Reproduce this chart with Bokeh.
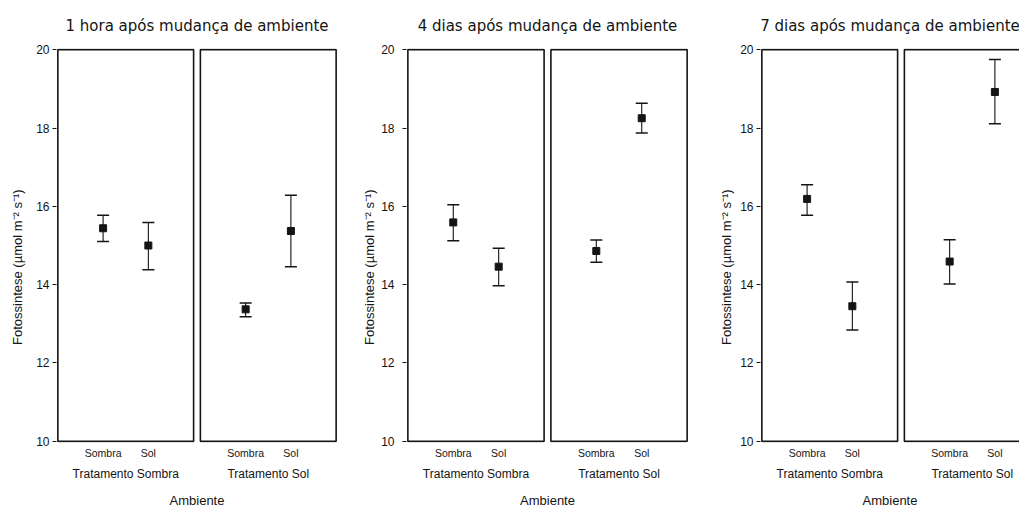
from bokeh.plotting import figure
from bokeh.layouts import row
from bokeh.models import (Range1d, FixedTicker, LinearAxis, ColumnDataSource,
                          Whisker, TeeHead)
from bokeh.embed import file_html
from bokeh.resources import INLINE

# ---------------- data ----------------
titles = ["1 hora após mudança de ambiente",
          "4 dias após mudança de ambiente",
          "7 dias após mudança de ambiente"]
treatments = ["Tratamento Sombra", "Tratamento Sol"]
environments = ["Sombra", "Sol"]
y_label = "Fotossintese (µmol m⁻² s⁻¹)"
x_label = "Ambiente"
y_ticks = [10, 12, 14, 16, 18, 20]

# order: (Trat. Sombra: Sombra, Sol), (Trat. Sol: Sombra, Sol)
mean_1h = [15.44, 15.00, 13.37, 15.37]
upper_1h = [15.77, 15.59, 13.53, 16.28]
lower_1h = [15.10, 14.38, 13.18, 14.46]

mean_4d = [15.59, 14.46, 14.86, 18.25]
upper_4d = [16.04, 14.93, 15.14, 18.63]
lower_4d = [15.12, 13.97, 14.57, 17.87]

mean_7d = [16.19, 13.45, 14.59, 18.92]
upper_7d = [16.55, 14.07, 15.15, 19.75]
lower_7d = [15.77, 12.84, 14.02, 18.11]

panels = [(mean_1h, upper_1h, lower_1h),
          (mean_4d, upper_4d, lower_4d),
          (mean_7d, upper_7d, lower_7d)]

# ---------------- layout / style ----------------
GAP = 0.15      # gap between the two sub-boxes (x units)
PAD = 0.03      # tiny padding so box edges are not clipped
BOX = 3.0       # width of each sub-box (x units)
FRAME_H = 394
full_span = 2 * BOX + GAP + 2 * PAD
NB = "\u00a0"
layout_cfg = [
    dict(frame_w=281, left=56, right=7, lab_so=3, axlab_so=8),
    dict(frame_w=282, left=62, right=7, lab_so=8, axlab_so=1),
    dict(frame_w=259, left=65, right=0, lab_so=3, axlab_so=3),
]
INK = "#141414"
FONT = "Liberation Sans"

figs = []
for k, (means, ups, lows) in enumerate(panels):
    cfg = layout_cfg[k]
    px_per_unit = cfg["frame_w"] / full_span if k < 2 else 281 / full_span
    x_end = -PAD + cfg["frame_w"] / px_per_unit

    xs, labels_x = [], {}
    for gi, tr in enumerate(treatments):
        for ej, env in enumerate(environments):
            xv = round(gi * (BOX + GAP) + ej + 1, 4)
            xs.append(xv)
            labels_x[xv] = env
    group_centers = [round(gi * (BOX + GAP) + BOX / 2, 4) for gi in range(len(treatments))]

    p = figure(frame_width=cfg["frame_w"], frame_height=FRAME_H,
               x_range=Range1d(-PAD, x_end), y_range=Range1d(10 - 0.03, 20 + 0.03),
               output_backend="svg", toolbar_location=None,
               min_border_left=cfg["left"], min_border_right=cfg["right"],
               min_border_top=47, min_border_bottom=0,
               title=titles[k])
    p.outline_line_color = None
    p.grid.visible = False
    p.background_fill_color = "white"
    p.border_fill_color = "white"

    p.title.align = "center"
    p.title.text_font = "DejaVu Sans"
    p.title.text_font_size = "15px"
    p.title.text_font_style = "normal"
    p.title.text_color = INK
    p.title.standoff = 28

    # sub-boxes
    p.rect(x=group_centers, y=15, width=BOX, height=10,
           fill_color=None, line_color=INK, line_width=1.6)

    # y axis
    ya = p.yaxis[0]
    ya.ticker = FixedTicker(ticks=y_ticks, minor_ticks=[])
    ya.axis_line_color = None
    ya.major_tick_out = 4
    ya.major_tick_in = 0
    ya.major_tick_line_color = INK
    ya.minor_tick_line_color = None
    ya.major_label_text_font = FONT
    ya.major_label_text_font_size = "12px"
    ya.major_label_text_color = INK
    ya.major_label_standoff = cfg["lab_so"]
    # trailing no-break spaces push the visible title a little below the frame centre, as in the original
    ya.axis_label = y_label + NB * 12
    ya.axis_label_text_font = FONT
    ya.axis_label_text_font_size = "13px"
    ya.axis_label_text_font_style = "normal"
    ya.axis_label_text_color = INK
    ya.axis_label_standoff = cfg["axlab_so"]

    # x axis row 1: environments
    xa = p.xaxis[0]
    xa.ticker = FixedTicker(ticks=xs, minor_ticks=[])
    xa.major_label_overrides = labels_x
    xa.axis_line_color = None
    xa.major_tick_line_color = None
    xa.minor_tick_line_color = None
    xa.major_tick_out = 0
    xa.major_tick_in = 0
    xa.major_label_standoff = 4
    xa.major_label_text_font = FONT
    xa.major_label_text_font_size = "10.5px"
    xa.major_label_text_color = INK

    # x axis row 2: treatments + axis title
    xa2 = LinearAxis(ticker=FixedTicker(ticks=group_centers, minor_ticks=[]),
                     major_label_overrides={c: t for c, t in zip(group_centers, treatments)})
    xa2.axis_line_color = None
    xa2.major_tick_line_color = None
    xa2.minor_tick_line_color = None
    xa2.major_tick_out = 0
    xa2.major_tick_in = 0
    xa2.major_label_standoff = 5
    xa2.major_label_text_font = FONT
    xa2.major_label_text_font_size = "12px"
    xa2.major_label_text_color = INK
    xa2.axis_label = x_label
    xa2.axis_label_text_font = FONT
    xa2.axis_label_text_font_size = "13px"
    xa2.axis_label_text_font_style = "normal"
    xa2.axis_label_text_color = INK
    xa2.axis_label_standoff = 9
    p.add_layout(xa2, "below")

    src = ColumnDataSource(dict(x=xs, mean=means, upper=ups, lower=lows))
    wh = Whisker(base="x", upper="upper", lower="lower", source=src,
                 dimension="height", line_color=INK, line_width=1.1,
                 upper_head=TeeHead(size=12, line_color=INK, line_width=1.5),
                 lower_head=TeeHead(size=12, line_color=INK, line_width=1.5))
    p.add_layout(wh)
    p.scatter(x="x", y="mean", source=src, marker="square", size=7,
              fill_color=INK, line_color=INK)
    figs.append(p)

layout = row(*figs, spacing=0)
open("out.html", "w").write(file_html(layout, INLINE))
